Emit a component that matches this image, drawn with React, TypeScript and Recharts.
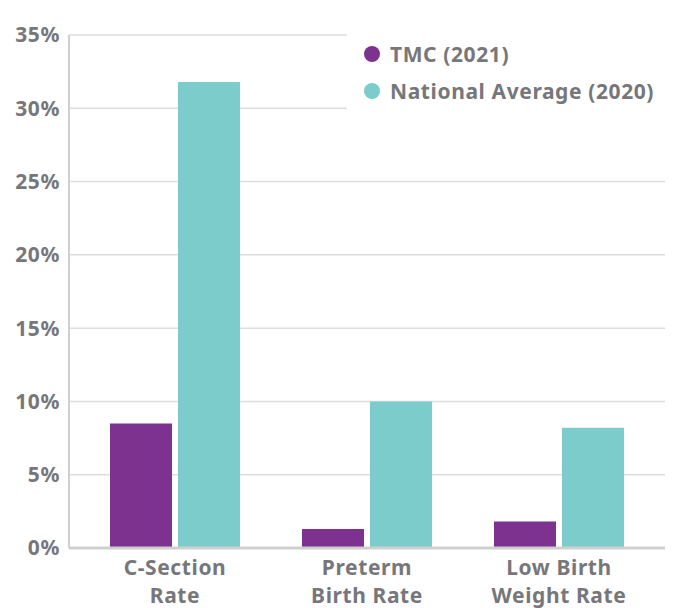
import React from "react";
import { BarChart, Bar, XAxis, YAxis, CartesianGrid, Legend } from "recharts";

const categories = [["C-Section", "Rate"], ["Preterm", "Birth Rate"], ["Low Birth", "Weight Rate"]];
const tmc2021 = [8.5, 1.3, 1.8];
const national2020 = [31.8, 10.0, 8.2];
const yTicks = [0, 5, 10, 15, 20, 25, 30, 35];
const seriesNames = ["TMC (2021)", "National Average (2020)"];

const PURPLE = "#7d3290";
const TEAL = "#7ccccb";
const GRAY = "#77777b";
const FONT = "'Noto Sans', Lato, sans-serif";

const data = categories.map((c, i) => ({
  name: c.join("\n"),
  tmc: tmc2021[i],
  nat: national2020[i],
}));

const XTick = (props: any) => {
  const { x, y, payload } = props;
  const lines = String(payload.value).split("\n");
  return (
    <text
      x={x}
      y={y}
      textAnchor="middle"
      fill={GRAY}
      fontFamily={FONT}
      fontWeight={700}
      fontSize={21}
      letterSpacing={0.6}
    >
      {lines.map((l, i) => (
        <tspan key={i} x={x} dy={i === 0 ? 19 : 28}>
          {l}
        </tspan>
      ))}
    </text>
  );
};

const LegendContent = () => {
  const items = [
    { label: seriesNames[0], color: PURPLE },
    { label: seriesNames[1], color: TEAL },
  ];
  return (
    <div style={{ background: "#fff", padding: "9px 0 8px 17px", fontFamily: FONT }}>
      {items.map((it) => (
        <div key={it.label} style={{ display: "flex", alignItems: "center", height: 37 }}>
          <span
            style={{
              display: "inline-block",
              width: 16,
              height: 16,
              borderRadius: "50%",
              background: it.color,
              marginRight: 10,
            }}
          />
          <span
            style={{
              color: GRAY,
              fontWeight: 700,
              fontSize: 21,
              letterSpacing: 0.6,
              whiteSpace: "nowrap",
            }}
          >
            {it.label}
          </span>
        </div>
      ))}
    </div>
  );
};

export default function App() {
  return (
    <BarChart
      width={670}
      height={600}
      data={data}
      margin={{ top: 27, right: 13, bottom: 0, left: 0 }}
      barCategoryGap={31}
      barGap={6}
    >
      <CartesianGrid vertical={false} stroke="#dddddd" strokeWidth={1.5} />
      <XAxis
        dataKey="name"
        interval={0}
        tick={<XTick />}
        tickLine={false}
        axisLine={{ stroke: "#cfcfcf", strokeWidth: 3 }}
        padding={{ left: 10, right: 10 }}
        height={60}
      />
      <YAxis
        domain={[0, 35]}
        ticks={yTicks}
        interval={0}
        width={61}
        tickLine={false}
        tickSize={6}
        tickMargin={3}
        axisLine={{ stroke: "#cfcfcf", strokeWidth: 2 }}
        tickFormatter={(v: number) => `${v}%`}
        tick={{ fill: GRAY, fontFamily: FONT, fontWeight: 700, fontSize: 21, letterSpacing: 0.6 }}
      />
      <Legend
        layout="vertical"
        align="center"
        verticalAlign="middle"
        content={<LegendContent />}
        wrapperStyle={{ left: 339, top: 18, width: 331 }}
      />
      <Bar dataKey="tmc" name={seriesNames[0]} fill={PURPLE} isAnimationActive={false} />
      <Bar dataKey="nat" name={seriesNames[1]} fill={TEAL} isAnimationActive={false} />
    </BarChart>
  );
}
